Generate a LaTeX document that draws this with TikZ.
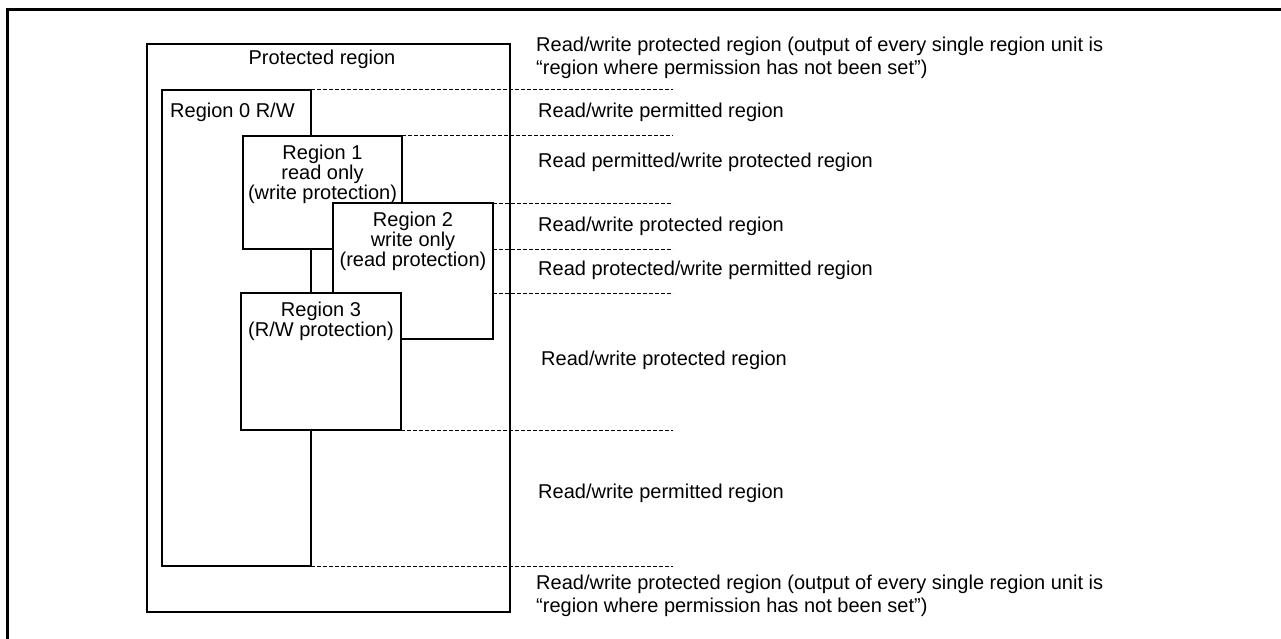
\documentclass[tikz,border=0pt]{standalone}
\usepackage{fontspec}
\setmainfont{Liberation Sans}
\usepackage{tikz}
\usetikzlibrary{positioning,calc}
\tikzset{
  every node/.style={font=\fontsize{20}{20}\selectfont, inner sep=0pt},
  % --- shapes
  frame/.style  = {line width=3pt},
  regbox/.style = {draw, fill=white, line width=1.3pt, outer sep=0pt,
                   anchor=north west},
  boxtxt/.style = {align=center, font=\fontsize{20}{20}\selectfont},
  lbl/.style    = {anchor=west, align=left, font=\fontsize{20}{22.5}\selectfont},
  % --- lines
  sep/.style    = {line width=1pt, dash pattern=on 4pt off 2pt},
}
\begin{document}
\begin{tikzpicture}[x=1pt,y=-1pt]
  \useasboundingbox (0,0) rectangle (1281,639);
  \draw[frame] (7,639) -- (7,10) -- (1281,10);

  % nested regions, later ones drawn on top
  \node[regbox, minimum width=363, minimum height=568] (prot) at (147,44) {};
  \node (tprot) at (322,59) {Protected region};
  \node[regbox, minimum width=149, minimum height=476] (r0) at (162,90) {};
  \node[anchor=west] (t0) at (170,112) {Region 0 R/W};
  \node[regbox, minimum width=159, minimum height=113] (r1) at (243,136) {};
  \node[boxtxt, below=9pt of r1.north] (t1) {Region 1\\read only\\(write protection)};
  \node[regbox, minimum width=160, minimum height=136] (r2) at (333,203) {};
  \node[boxtxt, below=9pt of r2.north] (t2) {Region 2\\write only\\(read protection)};
  \node[regbox, minimum width=160, minimum height=137] (r3) at (241,293) {};
  \node[boxtxt, below=9pt of r3.north] (t3) {Region 3\\(R/W protection)};

  % boundaries out to the right
  \coordinate (xend) at (673,0);
  \draw[sep] (r0.north east) -- (r0.north east -| xend);
  \draw[sep] (r1.north east) -- (r1.north east -| xend);
  \draw[sep] (r2.north east) -- (r2.north east -| xend);
  \draw[sep] (r2.east |- r1.south) -- (xend |- r1.south);
  \draw[sep] (r2.east |- r3.north) -- (xend |- r3.north);
  \draw[sep] (r3.south east) -- (r3.south east -| xend);
  \draw[sep] (r0.south east) -- (r0.south east -| xend);

  % what each band is
  \node[lbl] (l1) at (536,58) {Read/write protected region (output of every single region unit is\\``region where permission has not been set'')};
  \node[lbl] (l2) at (538,112) {Read/write permitted region};
  \node[lbl] (l3) at (538,162) {Read permitted/write protected region};
  \node[lbl] (l4) at (538,226) {Read/write protected region};
  \node[lbl] (l5) at (538,270) {Read protected/write permitted region};
  \node[lbl] (l6) at (541,360) {Read/write protected region};
  \node[lbl] (l7) at (538,493) {Read/write permitted region};
  \node[lbl] (l8) at (536,596) {Read/write protected region (output of every single region unit is\\``region where permission has not been set'')};
\end{tikzpicture}
\end{document}
